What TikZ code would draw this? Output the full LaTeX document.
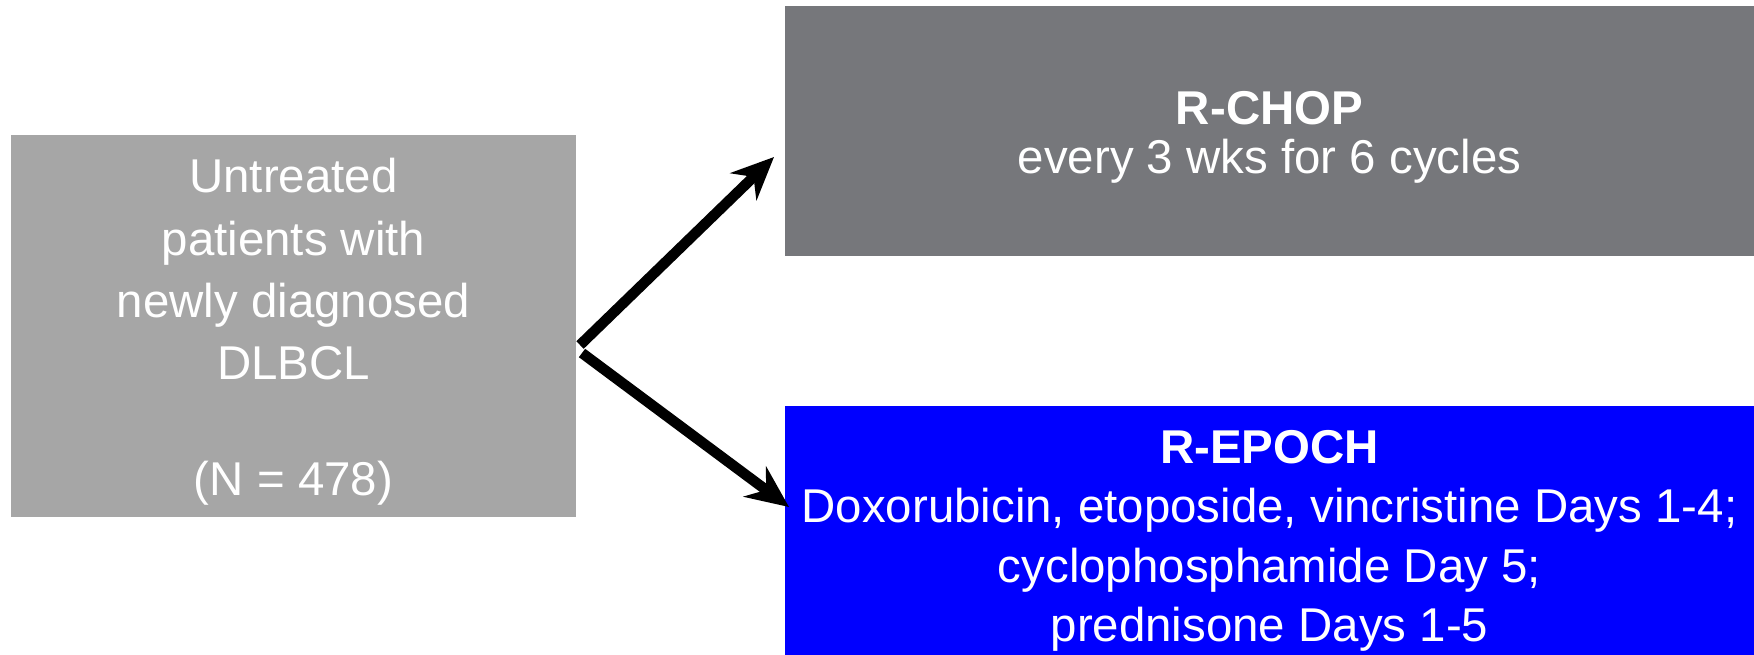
\documentclass[tikz,border=0pt]{standalone}
\usepackage{fontspec}
\setmainfont{Liberation Sans}
\usetikzlibrary{arrows.meta}
\definecolor{poolgray}{HTML}{A6A6A6}
\definecolor{chopgray}{HTML}{76777B}
\definecolor{epochblue}{HTML}{0000FF}
\newcommand{\toplift}[1]{\rule{0pt}{#1}}
\tikzset{
  armbox/.style={inner sep=0pt, outer sep=0pt, text=white, align=center},
  armarrow/.style={line width=0.21cm, -{Stealth[length=0.85cm, width=0.75cm, inset=0.28cm]}}
}
\begin{document}
\begin{tikzpicture}[x=0.02cm, y=-0.02cm]
  \useasboundingbox (0,0) rectangle (1754,654);
  \node[armbox, fill=poolgray, minimum width=11.3cm, minimum height=7.64cm,
        font=\fontsize{27}{35.5}\selectfont] (pool) at (293.5,326)
    {\toplift{26pt}Untreated\\patients with\\newly diagnosed\\DLBCL\\[30pt](N = 478)};
  \node[armbox, fill=chopgray, minimum width=19.38cm, minimum height=5cm,
        font=\fontsize{27}{28}\selectfont] (chop) at (1269.5,131)
    {\toplift{26.5pt}\textbf{R-CHOP}\\every 3 wks for 6 cycles};
  % box runs past the bottom edge, so the text sits lower
  \node[armbox, fill=epochblue, minimum width=19.38cm, minimum height=5.4cm,
        font=\fontsize{27}{33.8}\selectfont] (epoch) at (1269.5,541)
    {\textbf{R-EPOCH}\\Doxorubicin, etoposide, vincristine Days 1-4;\\cyclophosphamide Day 5;\\prednisone Days 1-5};
  \coordinate (forkup) at (580,345);
  \coordinate (forkdown) at (582,353);
  \coordinate (chopin) at (774,157);
  \coordinate (epochin) at (789,507);
  \begin{scope}[armarrow]
    \draw (forkup) to (chopin);
    \draw (forkdown) to (epochin);
  \end{scope}
\end{tikzpicture}
\end{document}
